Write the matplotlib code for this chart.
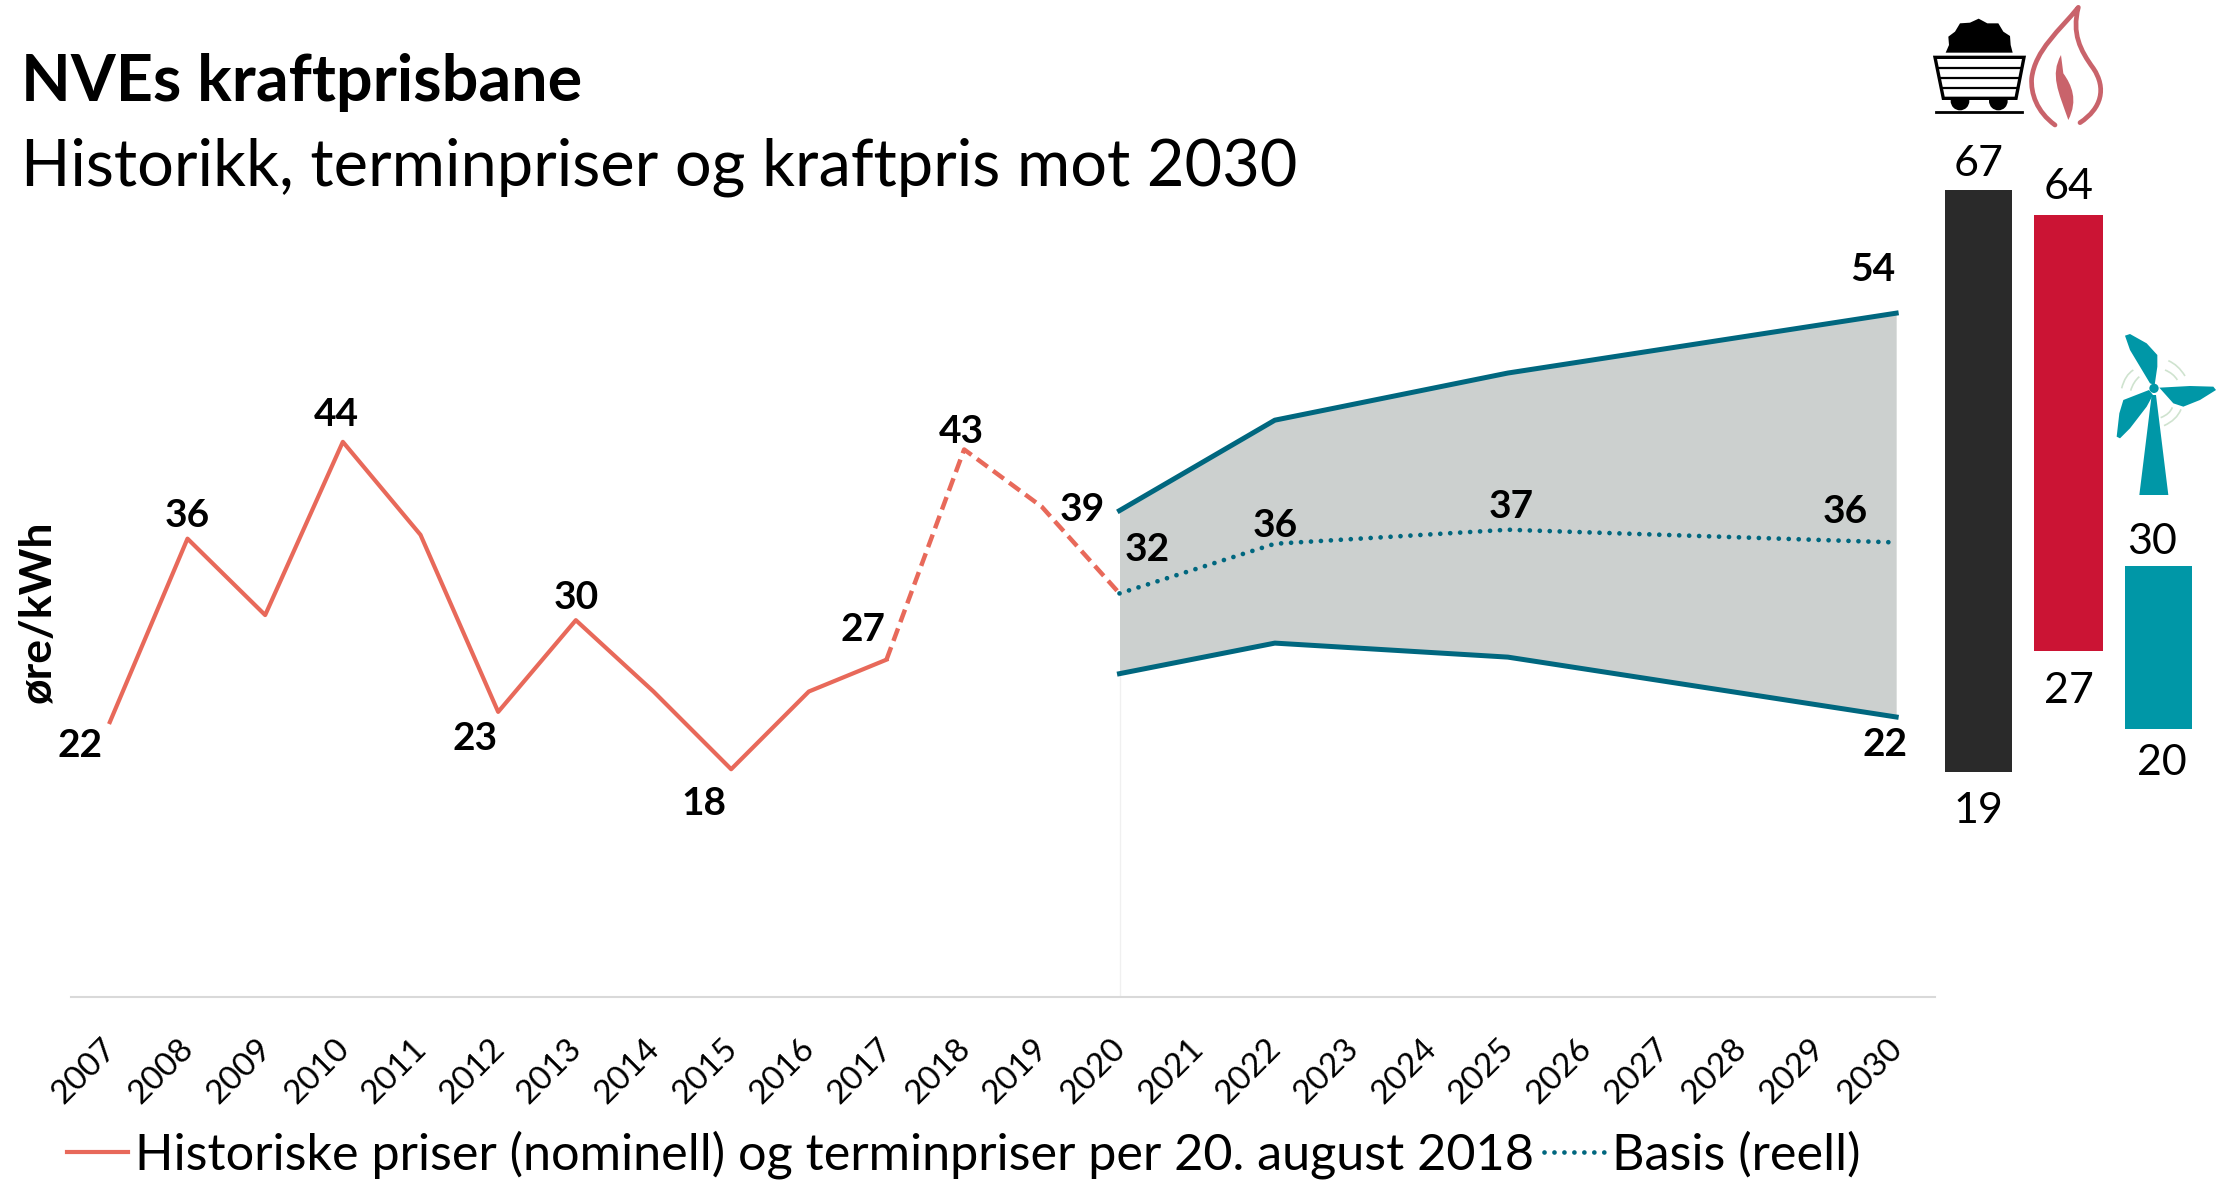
#!/usr/bin/env python3
# -*- coding: utf-8 -*-
import numpy as np
import matplotlib
matplotlib.use("Agg")
import matplotlib.pyplot as plt
from matplotlib.patches import Circle, Polygon, PathPatch
from matplotlib.path import Path
from matplotlib.transforms import Affine2D, ScaledTranslation

plt.rcParams['font.family'] = ['Lato', 'DejaVu Sans']

# Data (ore/kWh)
years = list(range(2007, 2031))
hist_years = list(range(2007, 2018))
hist_values = [22, 36.4, 30.4, 44, 36.7, 22.8, 30, 24.4, 18.3, 24.4, 26.9]
term_years = [2017, 2018, 2019, 2020]
term_values = [26.9, 43.4, 38.9, 32.1]
band_years = [2020, 2022, 2025, 2030]
band_high = [38.6, 45.7, 49.4, 54.1]
band_low = [25.8, 28.2, 27.1, 22.4]
basis = [32.1, 36.0, 37.1, 36.1]

# Cost ranges next to the chart
range_low = [19, 27, 20]
range_high = [67, 64, 30]
range_colors = ['#2a2a2a', '#cb1434', '#0097a7']

SALMON = '#e8695a'
TEAL = '#00677f'
W, H = 2220, 1182


def px_axes(left, top, right, bottom):
    # axes from a box given in pixels of the picture
    return fig.add_axes([left / W, 1 - bottom / H, (right - left) / W, (bottom - top) / H])


fig = plt.figure(figsize=(W / 100, H / 100), dpi=100)
ax = px_axes(71, 238, 1935, 997)

ax.fill_between(band_years, band_low, band_high, color='#ccd0cf', lw=0)
ax.vlines(2020, 0.42, band_low[0], color='#f0f0f0', lw=1)
line_hist, = ax.plot(hist_years, hist_values, color=SALMON, lw=3,
                     label='Historiske priser (nominell) og terminpriser per 20. august 2018')
ax.plot(term_years, term_values, color=SALMON, lw=3.2, ls=(0, (3, 1.5)))
ax.plot(band_years, band_high, color=TEAL, lw=3.6)
ax.plot(band_years, band_low, color=TEAL, lw=3.6)
line_basis, = ax.plot(band_years, basis, color=TEAL, lw=3.4, ls=(0, (0.01, 2.1)),
                      dash_capstyle='round', label='Basis (reell)')

ax.set_xlim(2006.5, 2030.5)
ax.set_ylim(0.42, 60)
ax.set_yticks([])
ax.set_xticks(years)
ax.set_xticklabels(years, rotation=45, ha='right', fontsize=24)
ax.tick_params(axis='x', length=0, pad=26)
shift = ScaledTranslation(12 / 100, 0, fig.dpi_scale_trans)
for lab in ax.get_xticklabels():
    lab.set_transform(lab.get_transform() + shift)
for side in ['top', 'left', 'right']:
    ax.spines[side].set_visible(False)
ax.spines['bottom'].set_color('#d9d9d9')
ax.spines['bottom'].set_linewidth(1.5)
ax.set_ylabel('øre/kWh', fontsize=32, fontweight='bold')
ax.yaxis.set_label_coords(-0.007, 0.507)


def label(x, y, dx, dy):
    ax.annotate(f'{round(y)}', (x, y), xytext=(dx, dy), textcoords='offset pixels',
                ha='center', va='center', fontsize=28, fontweight='bold', annotation_clip=False)


# value labels, offsets in pixels from the point
label(2007, hist_values[0], -30, -23)
label(2008, hist_values[1], 0, 23)
label(2010, hist_values[3], -7, 27)
label(2012, hist_values[5], -23, -27)
label(2013, hist_values[6], 0, 23)
label(2015, hist_values[8], -27, -34)
label(2017, hist_values[10], -23, 30)
label(2018, term_values[1], -3, 18)
label(2019, term_values[2], 40, -3)
label(2020, basis[0], 28, 44)
label(2022, basis[1], 0, 18)
label(2025, basis[2], 3, 23)
label(2030, basis[3], -51, 31)
label(2030, band_high[3], -23, 44)
label(2030, band_low[3], -11, -28)

ax.legend(handles=[line_hist, line_basis], loc='lower left', bbox_to_anchor=(-0.002, -0.24),
          ncol=2, frameon=False, fontsize=36.3, handlelength=1.2, handletextpad=0.15,
          columnspacing=0.2, borderpad=0, borderaxespad=0)

fig.text(21 / W, 1 - 82 / H, 'NVEs kraftprisbane', fontsize=46.5, fontweight='bold', va='center')
fig.text(21 / W, 1 - 167 / H, 'Historikk, terminpriser og kraftpris mot 2030', fontsize=46.7, va='center')

# Range bars, each one has its own scale like in the picture
boxes = [(1945, 190, 2012, 772), (2034, 215, 2103, 651), (2125, 566, 2192, 729)]
top_offsets = [(0, 26), (0, 28), (-6, 24)]
bottom_offsets = [(0, -39), (0, -40), (3, -34)]
for i in range(3):
    bx = px_axes(*boxes[i])
    bx.bar(0, range_high[i] - range_low[i], bottom=range_low[i], width=1, color=range_colors[i])
    bx.set_xlim(-0.5, 0.5)
    bx.set_ylim(range_low[i], range_high[i])
    bx.axis('off')
    bx.annotate(str(range_high[i]), (0, range_high[i]), xytext=top_offsets[i], textcoords='offset pixels',
                ha='center', va='center', fontsize=31, annotation_clip=False)
    bx.annotate(str(range_low[i]), (0, range_low[i]), xytext=bottom_offsets[i], textcoords='offset pixels',
                ha='center', va='center', fontsize=31, annotation_clip=False)

# Icons, drawn on a layer over the whole picture
icons = fig.add_axes([0, 0, 1, 1])
icons.set_xlim(0, W)
icons.set_ylim(H, 0)
icons.axis('off')
t1 = Affine2D().scale(1 / 3).translate(1880, 0) + icons.transData
t2 = Affine2D().scale(1 / 3).translate(2080, 320) + icons.transData

# coal cart
coal = [(197, 158), (207, 135), (205, 110), (225, 95), (240, 70), (270, 68), (296, 56), (322, 70),
        (355, 70), (370, 95), (390, 108), (392, 135), (398, 158)]
icons.add_patch(Polygon(coal, fc='black', ec='none', transform=t1))
icons.add_patch(Circle((240, 303), 28, fc='black', transform=t1))
icons.add_patch(Circle((355, 303), 28, fc='black', transform=t1))
icons.add_patch(Polygon([(165, 172), (432, 172), (408, 295), (190, 295)], fc='white', ec='black', lw=2.4, transform=t1))
for yy, x0, x1 in [(205, 175, 422), (235, 180, 416), (265, 185, 411)]:
    icons.plot([x0, x1], [yy, yy], color='black', lw=1.6, transform=t1)
icons.plot([167, 427], [337, 337], color='black', lw=2, transform=t1)

# flame
FLAME = '#c9636b'
verts = [(525, 375), (470, 335), (452, 280), (455, 235), (465, 150), (540, 90), (595, 22),
         (575, 100), (600, 150), (640, 205), (680, 265), (665, 325), (600, 368)]
codes = [Path.MOVETO] + [Path.CURVE4] * 12
icons.add_patch(PathPatch(Path(verts, codes), fc='none', ec=FLAME, lw=3.4, capstyle='round',
                          joinstyle='round', transform=t1))
inner = [(543, 165), (510, 225), (535, 275), (565, 360), (595, 300), (575, 255), (550, 220), (543, 165)]
icons.add_patch(PathPatch(Path(inner, [Path.MOVETO] + [Path.CURVE4] * 6 + [Path.LINETO]), fc=FLAME, ec='none', transform=t1))

# wind turbine
TURB = '#0097a7'
for shape in [[(178, 525), (265, 525), (228, 225), (215, 225)],
              [(135, 47), (150, 42), (200, 70), (232, 105), (232, 140), (224, 195), (210, 190), (150, 90)],
              [(238, 203), (330, 198), (400, 200), (408, 210), (360, 240), (310, 260), (280, 250)],
              [(207, 210), (130, 240), (118, 280), (110, 350), (120, 355), (150, 325), (200, 260), (219, 225)]]:
    icons.add_patch(Polygon(shape, fc=TURB, ec='none', transform=t2))
icons.add_patch(Circle((222, 205), 14, fc=TURB, ec='none', transform=t2))
for arc in [[(265, 122), (295, 135), (315, 168)], [(255, 150), (280, 160), (292, 180)],
            [(160, 150), (135, 165), (125, 205)], [(178, 170), (160, 185), (152, 212)],
            [(303, 268), (290, 300), (252, 317)], [(277, 262), (270, 282), (242, 293)]]:
    icons.add_patch(PathPatch(Path(arc, [Path.MOVETO, Path.CURVE3, Path.CURVE3]), fc='none', ec='#cfe3cf', lw=1.2, transform=t2))

plt.savefig('out.png', dpi=100)
